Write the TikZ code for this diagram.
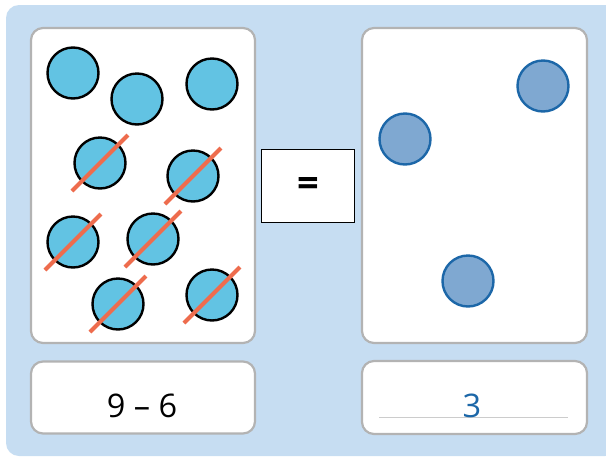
\documentclass[tikz,border=0pt]{standalone}
\usepackage{fontspec}
\setmainfont{Open Sans}
\definecolor{panelblue}{HTML}{C6DDF2}
\definecolor{cardgray}{HTML}{B3B3B3}
\definecolor{dotcyan}{HTML}{62C3E3}
\definecolor{crossred}{HTML}{EE6C4D}
\definecolor{dotblue}{HTML}{7FA8D1}
\definecolor{dotedge}{HTML}{1C67A8}
\definecolor{rulegray}{HTML}{CCCCCC}
\tikzset{
  card/.style={draw=cardgray, line width=2.2pt, fill=white, rounded corners=12pt, inner sep=0pt},
  cyandot/.style={circle, draw=black, line width=2.4pt, fill=dotcyan, minimum size=51pt, inner sep=0pt},
  bluedot/.style={circle, draw=dotedge, line width=2.4pt, fill=dotblue, minimum size=51pt, inner sep=0pt},
  strike/.style={draw=crossred, line width=4pt},
}
\begin{document}
\begin{tikzpicture}[x=1pt, y=-1pt]
\useasboundingbox (0,0) rectangle (606,456);
\fill[white] (0,0) rectangle (606,456);
\fill[panelblue, rounded corners=13pt] (6,5) rectangle (618,456);
% cards
\node[card, minimum width=224pt, minimum height=315pt] (lcard) at (143,185.5) {};
\node[card, minimum width=224pt, minimum height=72pt] (lbot) at (143,397.5) {};
\node[card, minimum width=225pt, minimum height=315pt] (rcard) at (474.5,185.5) {};
\node[card, minimum width=225pt, minimum height=73pt] (rbot) at (474.5,397.5) {};
% equals box
\node[draw=black, line width=1pt, fill=white, minimum width=93pt, minimum height=73pt, inner sep=0pt] (eq) at (308,185.5) {};
\node[font=\bfseries\fontsize{38}{38}\selectfont] (eqsign) at (308,187) {=};
% left dots
\node[cyandot] (c1) at (73,73) {};
\node[cyandot] (c2) at (137,99) {};
\node[cyandot] (c3) at (212,84) {};
\node[cyandot] (c4) at (100,163) {};
\node[cyandot] (c5) at (193,176) {};
\node[cyandot] (c6) at (73,242) {};
\node[cyandot] (c7) at (153,239) {};
\node[cyandot] (c8) at (118,304) {};
\node[cyandot] (c9) at (212,295) {};
\foreach \n in {c4,c5,c6,c7,c8,c9}{
  \draw[strike] ([shift={(-28,28)}]\n.center) -- ([shift={(28,-28)}]\n.center);
}
% right dots
\node[bluedot] (d1) at (543,86) {};
\node[bluedot] (d2) at (405,139) {};
\node[bluedot] (d3) at (468,281) {};
% texts
\node[font=\fontsize{32.5}{32.5}\selectfont, inner sep=0pt] (expr) at (142,406) {9 – 6};
\coordinate (rl) at (379,417);
\coordinate (rr) at (568,417);
\draw[rulegray, line width=1pt] (rl) -- (rr);
\node[font=\fontsize{32.5}{32.5}\selectfont, text=dotedge, inner sep=0pt] (ans) at (472,406) {3};
\end{tikzpicture}
\end{document}
